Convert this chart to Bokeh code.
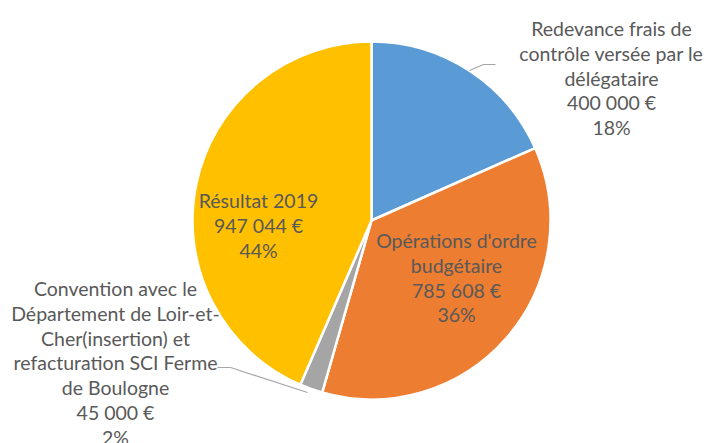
import math
from bokeh.plotting import figure
from bokeh.models import Range1d, ColumnDataSource
from bokeh.core.properties import value
from bokeh.embed import file_html
from bokeh.resources import INLINE

# ---- data ----
categories = [
    "Redevance frais de contrôle versée par le délégataire",
    "Opérations d'ordre budgétaire",
    "Convention avec le Département de Loir-et-Cher(insertion) et refacturation SCI Ferme de Boulogne",
    "Résultat 2019",
]
label_lines = [
    ["Redevance frais de", "contrôle versée par le", "délégataire"],
    ["Opérations d'ordre", "budgétaire"],
    ["Convention avec le", "Département de Loir-et-", "Cher(insertion) et", "refacturation SCI Ferme", "de Boulogne"],
    ["Résultat 2019"],
]
amounts = [400000, 785608, 45000, 947044]
colors = ["#5B9BD5", "#ED7D31", "#A5A5A5", "#FFC000"]

# ---- layout (image pixel coordinates) ----
W, H = 708, 443
CX, CY, R = 371, 220, 179
label_anchor = [(611, 28), (456, 240), (115, 288), (258, 200)]
line_step = 24.8
FONT = "Lato"
FONT_SIZE = "19.5px"
TEXT_COLOR = "#595959"
LEADER_COLOR = "#A6A6A6"


def Y(y_img):
    return H - y_img


total = float(sum(amounts))
fracs = [a / total for a in amounts]

# percentages rounded so that they sum to 100 (largest remainder)
raw = [f * 100 for f in fracs]
pcts = [int(math.floor(r)) for r in raw]
order = sorted(range(len(raw)), key=lambda i: raw[i] - pcts[i], reverse=True)
for i in order[: 100 - sum(pcts)]:
    pcts[i] += 1

starts, ends = [], []
cum = 0.0
for f in fracs:
    # clockwise from 12 o'clock
    ends.append(math.pi / 2 - 2 * math.pi * cum)
    cum += f
    starts.append(math.pi / 2 - 2 * math.pi * cum)

p = figure(width=W, height=H, output_backend="svg", toolbar_location=None,
           x_range=Range1d(0, W), y_range=Range1d(0, H), min_border=0)
p.axis.visible = False
p.grid.visible = False
p.outline_line_color = None
p.background_fill_color = "white"

src = ColumnDataSource(dict(start=starts, end=ends, color=colors,
                            x=[CX] * 4, y=[Y(CY)] * 4))
p.wedge(x="x", y="y", radius=R, start_angle="start", end_angle="end",
        fill_color="color", line_color="white", line_width=2.5, source=src)

# leader lines
p.line([469, 483, 495], [Y(70), Y(64), Y(64)], line_color=LEADER_COLOR, line_width=1.2)
p.line([307, 230, 217], [Y(392), Y(367), Y(367)], line_color=LEADER_COLOR, line_width=1.2)


def fmt_amount(a):
    return f"{a:,}".replace(",", " ") + " €"


tx, ty, tt = [], [], []
for i, lines in enumerate(label_lines):
    full = lines + [fmt_amount(amounts[i]), f"{pcts[i]}%"]
    ax, ay = label_anchor[i]
    for k, s in enumerate(full):
        tx.append(ax)
        ty.append(Y(ay + k * line_step))
        tt.append(s)

p.text(x=tx, y=ty, text=tt, text_align="center", text_baseline="middle",
       text_font=value(FONT), text_font_size=FONT_SIZE, text_color=TEXT_COLOR)

open("out.html", "w").write(file_html(p, INLINE))
